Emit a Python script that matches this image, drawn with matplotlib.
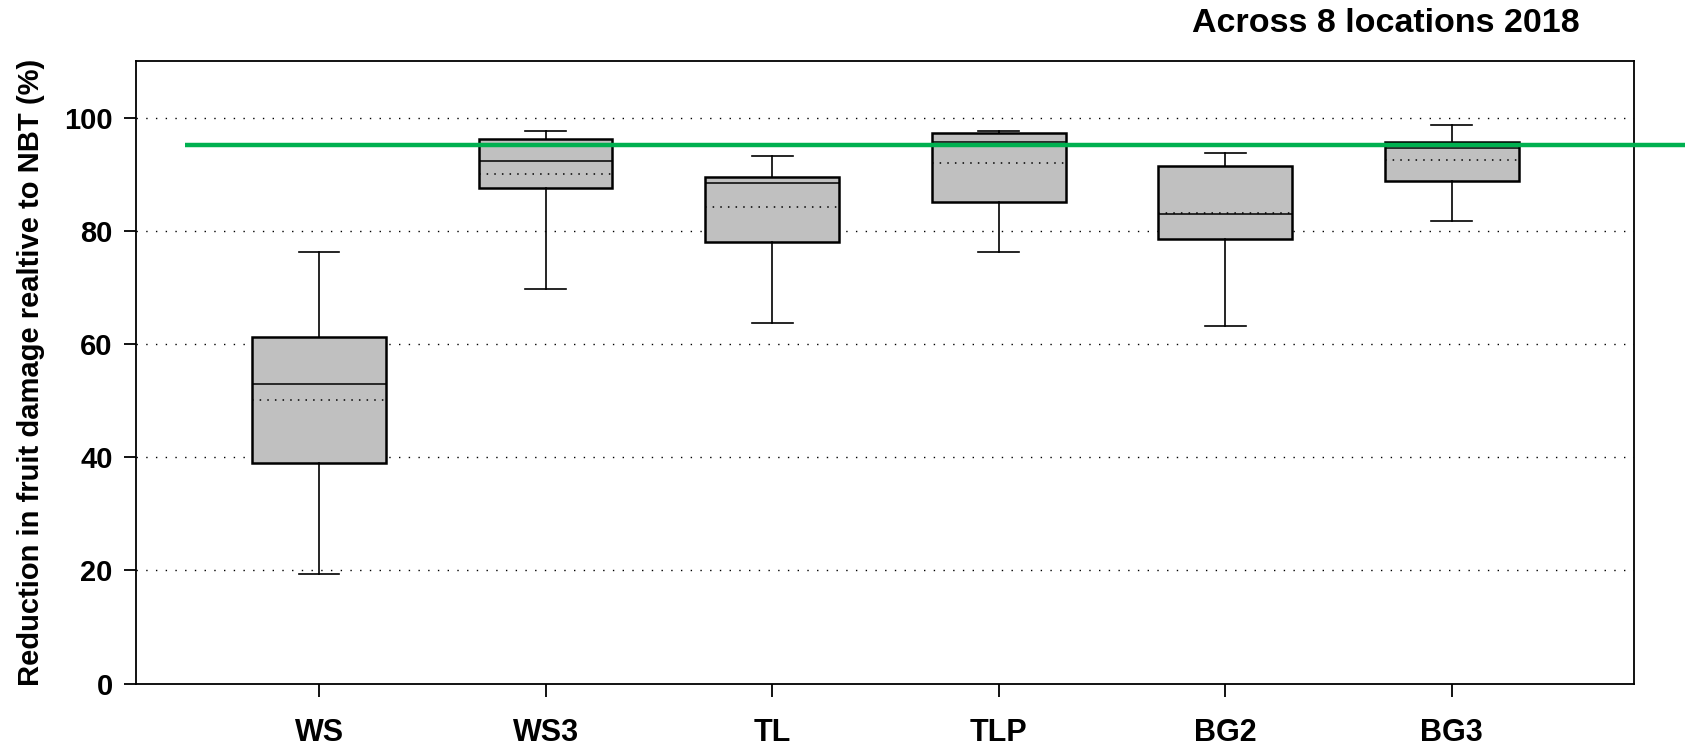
import matplotlib
matplotlib.use("Agg")
import matplotlib.pyplot as plt

categories = ["WS", "WS3", "TL", "TLP", "BG2", "BG3"]
whisker_low = [19.4, 69.7, 63.7, 76.2, 63.2, 81.8]
q1 = [39.0, 87.6, 78.1, 85.2, 78.6, 88.8]
median = [52.9, 92.3, 88.5, 95.7, 83.0, 94.6]
mean = [50.1, 90.1, 84.3, 92.0, 83.1, 92.5]
q3 = [61.2, 96.3, 89.6, 97.4, 91.4, 95.8]
whisker_high = [76.2, 97.6, 93.3, 97.6, 93.8, 98.8]
reference_value = 95.2
yticks = [0, 20, 40, 60, 80, 100]

plt.rcParams['font.family'] = ['Liberation Sans', 'DejaVu Sans']

fig = plt.figure(figsize=(16.85, 7.47), dpi=100)
ax = fig.add_axes([0.081, 0.085, 0.889, 0.833])

stats = []
for i, c in enumerate(categories):
    stats.append(dict(label=c, whislo=whisker_low[i], q1=q1[i], med=median[i],
                      mean=mean[i], q3=q3[i], whishi=whisker_high[i], fliers=[]))

positions = list(range(len(categories)))
ax.bxp(stats, positions=positions, widths=0.59, capwidths=0.18,
       showmeans=True, meanline=True, patch_artist=True,
       boxprops=dict(facecolor="#c0c0c0", edgecolor="black", linewidth=1.8),
       medianprops=dict(color="black", linewidth=1.1),
       meanprops=dict(color="black", linestyle=(0, (1, 4)), linewidth=1.1),
       whiskerprops=dict(color="black", linewidth=1.2),
       capprops=dict(color="black", linewidth=1.2),
       zorder=3)

for y in yticks[1:]:
    ax.axhline(y, color="black", linestyle=(0, (1, 6)), linewidth=1.0, zorder=1)

ax.plot([-0.59, 6.2], [reference_value, reference_value], color="#00b050",
        linewidth=3.2, clip_on=False, zorder=5, solid_capstyle="butt")

ax.set_xlim(-0.806, 5.806)
ax.set_ylim(0, 110)
ax.set_yticks(yticks)
ax.set_xticks(positions)
ax.set_xticklabels(categories)

for s in ax.spines.values():
    s.set_linewidth(1.3)

ax.tick_params(axis="y", direction="out", length=9, width=1.3, labelsize=21, pad=8)
ax.tick_params(axis="x", direction="out", length=9, width=1.3, labelsize=22, pad=16)
for lab in ax.get_xticklabels() + ax.get_yticklabels():
    lab.set_fontweight("bold")

ax.set_ylabel("Reduction in fruit damage realtive to NBT (%)", fontsize=21,
              fontweight="bold", labelpad=14)

fig.text(0.9377, 0.969, "Across 8 locations 2018", fontsize=24.5, fontweight="bold",
         ha="right", va="center")

fig.savefig("out.png", dpi=100)
